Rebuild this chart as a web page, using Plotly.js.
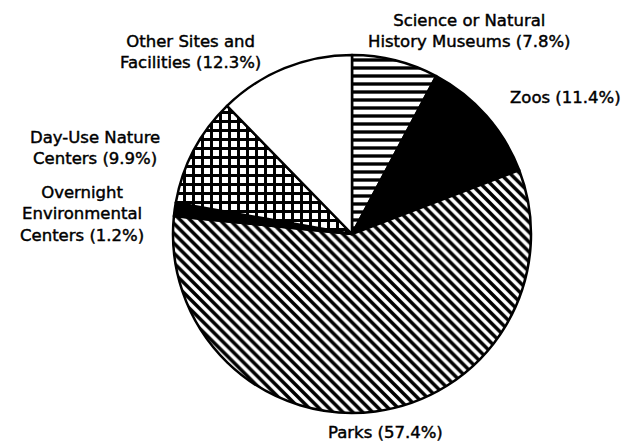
<!DOCTYPE html>
<html>
<head>
<meta charset="utf-8">
<script src="https://cdn.plot.ly/plotly-3.0.1.min.js"></script>
<style>
html,body{margin:0;padding:0;background:#fff;}
.annotation-text{stroke:#000;stroke-width:0.45px;}
</style>
</head>
<body>
<div id="chart" style="width:631px;height:445px;"></div>
<script>
// Data (clockwise from 12 o'clock)
const categories = ["Science or Natural History Museums", "Zoos", "Parks", "Overnight Environmental Centers", "Day-Use Nature Centers", "Other Sites and Facilities"];
const shares = [7.8, 11.4, 57.4, 1.2, 9.9, 12.3];
const labelLines = [
  "Science or Natural<br>History Museums (7.8%)",
  "Zoos (11.4%)",
  "Parks (57.4%)",
  "Overnight<br>Environmental<br>Centers (1.2%)",
  "Day-Use Nature<br>Centers (9.9%)",
  "Other Sites and<br>Facilities (12.3%)"
];
// styling
const fills = ["white", "black", "white", "black", "white", "white"];
const patterns = ["-", "", "\\", "", "+", ""];
const labelPos = [
  {x: 469, y: 31},
  {x: 565, y: 97},
  {x: 385, y: 432},
  {x: 82, y: 214},
  {x: 95, y: 148},
  {x: 190, y: 52}
];
const W = 631, H = 445;

const trace = {
  type: "pie",
  labels: categories,
  values: shares,
  sort: false,
  direction: "clockwise",
  rotation: 0,
  textinfo: "none",
  hoverinfo: "skip",
  showlegend: false,
  domain: {x: [(352-179)/W, (352+179)/W], y: [1-413/H, 1-55/H]},
  marker: {
    colors: fills,
    line: {color: "black", width: 2.5},
    pattern: {
      shape: patterns,
      fgcolor: "black",
      bgcolor: fills,
      size: [8, 8, 7, 8, 9, 8],
      solidity: [0.42, 0.3, 0.5, 0.3, 0.55, 0.3]
    }
  }
};

const annotations = labelLines.map((t, i) => ({
  text: t,
  xref: "paper", yref: "paper",
  x: labelPos[i].x / W, y: 1 - labelPos[i].y / H,
  xanchor: "center", yanchor: "middle",
  showarrow: false,
  align: "center",
  font: {family: "DejaVu Sans", size: 16.5, color: "black"}
}));

Plotly.newPlot("chart", [trace], {
  width: W, height: H,
  margin: {l: 0, r: 0, t: 0, b: 0},
  paper_bgcolor: "white",
  plot_bgcolor: "white",
  annotations: annotations
}, {staticPlot: true});
</script>
</body>
</html>
